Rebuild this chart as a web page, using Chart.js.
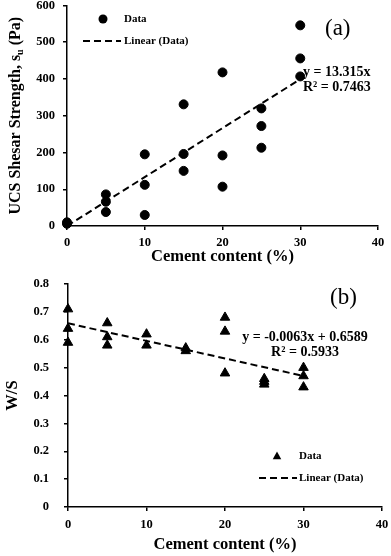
<!DOCTYPE html>
<html>
<head>
<meta charset="utf-8">
<script src="https://cdn.jsdelivr.net/npm/chart.js@4.4.0/dist/chart.umd.min.js"></script>
<style>
  body { margin: 0; background: #fff; width: 391px; height: 556px; overflow: hidden; position: relative; }
  .box { position: absolute; left: 0; width: 391px; }
</style>
</head>
<body>
<div class="box" style="top:0;height:270px"><canvas id="chartA"></canvas></div>
<div class="box" style="top:270px;height:286px"><canvas id="chartB"></canvas></div>
<script>
// (a) UCS shear strength vs cement content
const cementA = [0, 0, 5, 5, 5, 10, 10, 10, 15, 15, 15, 20, 20, 20, 25, 25, 25, 30, 30, 30];
const strength = [10, 6, 86, 66, 38, 195, 112, 30, 331, 196, 150, 418, 192, 107, 320, 272, 213, 546, 456, 407];
const trendAX = [0, 30];
const trendAY = [0, 399.5];

// (b) W/S vs cement content
const cementB = [0, 0, 0, 5, 5, 5, 10, 10, 15, 15, 20, 20, 20, 25, 25, 25, 30, 30, 30];
const ws = [0.71, 0.64, 0.59, 0.66, 0.61, 0.58, 0.62, 0.58, 0.57, 0.56, 0.68, 0.63, 0.48, 0.46, 0.45, 0.44, 0.50, 0.47, 0.43];
const trendBX = [0, 30];
const trendBY = [0.659, 0.470];

const xTicks = [0, 10, 20, 30, 40];

const serif = '"Liberation Serif", "Times New Roman", serif';
const pts = (xs, ys) => xs.map((x, i) => ({ x: x, y: ys[i] }));

// legend + text labels drawn inside the plot
function marker(ctx, style, x, y, r) {
  ctx.beginPath();
  if (style === 'triangle') {
    ctx.moveTo(x, y - r);
    ctx.lineTo(x + r * 0.95, y + r * 0.7);
    ctx.lineTo(x - r * 0.95, y + r * 0.7);
    ctx.closePath();
  } else {
    ctx.arc(x, y, r, 0, Math.PI * 2);
  }
  ctx.fill();
}

const notes = {
  id: 'notes',
  afterDraw(chart, args, o) {
    const ctx = chart.ctx;
    ctx.save();
    ctx.fillStyle = '#000';
    ctx.strokeStyle = '#000';
    ctx.textBaseline = 'middle';
    // legend
    const lg = o.legend;
    marker(ctx, lg.style, lg.markX, lg.y1, lg.r);
    ctx.lineWidth = 2;
    ctx.setLineDash([7, 4]);
    ctx.beginPath();
    ctx.moveTo(lg.lineX1, lg.y2);
    ctx.lineTo(lg.lineX2, lg.y2);
    ctx.stroke();
    ctx.setLineDash([]);
    ctx.font = 'bold 11px ' + serif;
    ctx.textAlign = 'left';
    ctx.fillText('Data', lg.textX, lg.y1);
    ctx.fillText('Linear (Data)', lg.textX, lg.y2);
    // panel tag
    ctx.font = '23px ' + serif;
    ctx.textAlign = 'left';
    ctx.fillText(o.tag.text, o.tag.x, o.tag.y);
    // equation
    ctx.font = 'bold 14px ' + serif;
    ctx.textAlign = o.eq.align;
    ctx.fillText(o.eq.lines[0], o.eq.x, o.eq.y);
    ctx.fillText(o.eq.lines[1], o.eq.x, o.eq.y + 15);
    // y title with subscript
    if (o.ytitle) {
      const t = o.ytitle;
      const area = chart.chartArea;
      ctx.translate(t.x, (area.top + area.bottom) / 2);
      ctx.rotate(-Math.PI / 2);
      const big = 'bold 16px ' + serif;
      const small = 'bold 10px ' + serif;
      ctx.font = big;
      const w1 = ctx.measureText(t.a).width;
      const w3 = ctx.measureText(t.c).width;
      ctx.font = small;
      const w2 = ctx.measureText(t.b).width;
      let x = -(w1 + w2 + w3) / 2;
      ctx.textAlign = 'left';
      ctx.font = big;
      ctx.fillText(t.a, x, 0);
      x += w1;
      ctx.font = small;
      ctx.fillText(t.b, x, 4);
      x += w2;
      ctx.font = big;
      ctx.fillText(t.c, x, 0);
    }
    ctx.restore();
  }
};

function axisX(h, pad, titlePad) {
  return {
    type: 'linear', min: 0, max: 40,
    afterBuildTicks: s => { s.ticks = xTicks.map(v => ({ value: v })); },
    afterFit: s => { s.height = h; s.paddingLeft = 0; s.paddingRight = 0; },
    grid: { display: true, drawOnChartArea: false, drawTicks: true, tickLength: 4, color: '#000', lineWidth: 1.5 },
    border: { display: true, color: '#000', width: 1.5 },
    ticks: { color: '#000', padding: pad, maxRotation: 0, font: { family: serif, size: 12.5, weight: 'bold' } },
    title: { display: true, text: 'Cement content (%)', color: '#000', padding: { top: 0, bottom: titlePad },
      font: { family: serif, size: 16.5, weight: 'bold' } }
  };
}

function axisY(w, min, max, step, pad, fmt, title) {
  return {
    type: 'linear', min: min, max: max,
    afterFit: s => { s.width = w; s.paddingTop = 0; s.paddingBottom = 0; },
    grid: { display: true, drawOnChartArea: false, drawTicks: true, tickLength: 4, color: '#000', lineWidth: 1.5 },
    border: { display: true, color: '#000', width: 1.5 },
    ticks: { color: '#000', stepSize: step, padding: pad, callback: fmt, font: { family: serif, size: 12.5, weight: 'bold' } },
    title: title
  };
}

new Chart(document.getElementById('chartA'), {
  type: 'scatter',
  data: {
    datasets: [
      {
        label: 'Data',
        data: pts(cementA, strength),
        pointStyle: 'circle',
        pointRadius: 4.5,
        backgroundColor: '#000',
        borderColor: '#000',
        clip: false
      },
      {
        label: 'Linear (Data)',
        data: pts(trendAX, trendAY),
        showLine: true,
        pointRadius: 0,
        borderColor: '#000',
        borderWidth: 2,
        borderDash: [7, 4]
      }
    ]
  },
  options: {
    responsive: true,
    maintainAspectRatio: false,
    animation: false,
    layout: { padding: { top: 5, right: 13, left: 0, bottom: 0 } },
    plugins: {
      legend: { display: false },
      tooltip: { enabled: false },
      notes: {
        legend: { style: 'circle', r: 4.5, markX: 103, y1: 19, lineX1: 83, lineX2: 121, y2: 41, textX: 124 },
        tag: { text: '(a)', x: 325, y: 29 },
        eq: { align: 'left', x: 303, y: 72, lines: ['y = 13.315x', 'R\u00b2 = 0.7463'] },
        ytitle: { x: 16, a: 'UCS Shesar Strength, s', b: 'u', c: ' (Pa)' }
      }
    },
    scales: {
      x: axisX(44, 5, 3),
      y: axisY(67, 0, 600, 100, 8, v => v, { display: false })
    }
  },
  plugins: [notes]
});

new Chart(document.getElementById('chartB'), {
  type: 'scatter',
  data: {
    datasets: [
      {
        label: 'Data',
        data: pts(cementB, ws),
        pointStyle: 'triangle',
        pointRadius: 5.5,
        backgroundColor: '#000',
        borderColor: '#000',
        clip: false
      },
      {
        label: 'Linear (Data)',
        data: pts(trendBX, trendBY),
        showLine: true,
        pointRadius: 0,
        borderColor: '#000',
        borderWidth: 2,
        borderDash: [7, 4]
      }
    ]
  },
  options: {
    responsive: true,
    maintainAspectRatio: false,
    animation: false,
    layout: { padding: { top: 14, right: 9, left: 0, bottom: 0 } },
    plugins: {
      legend: { display: false },
      tooltip: { enabled: false },
      notes: {
        legend: { style: 'triangle', r: 4.5, markX: 277, y1: 186, lineX1: 259, lineX2: 297, y2: 208, textX: 299 },
        tag: { text: '(b)', x: 330, y: 28 },
        eq: { align: 'center', x: 305, y: 67, lines: ['y = -0.0063x + 0.6589', 'R\u00b2 = 0.5933'] }
      }
    },
    scales: {
      x: axisX(49, 6, 1),
      y: axisY(68, 0, 0.8, 0.1, 15, v => (v === 0 ? '0' : v.toFixed(1)), {
        display: true, text: 'W/S', color: '#000', padding: { top: 3, bottom: 0 },
        font: { family: serif, size: 16.5, weight: 'bold' }
      })
    }
  },
  plugins: [notes]
});
</script>
</body>
</html>
